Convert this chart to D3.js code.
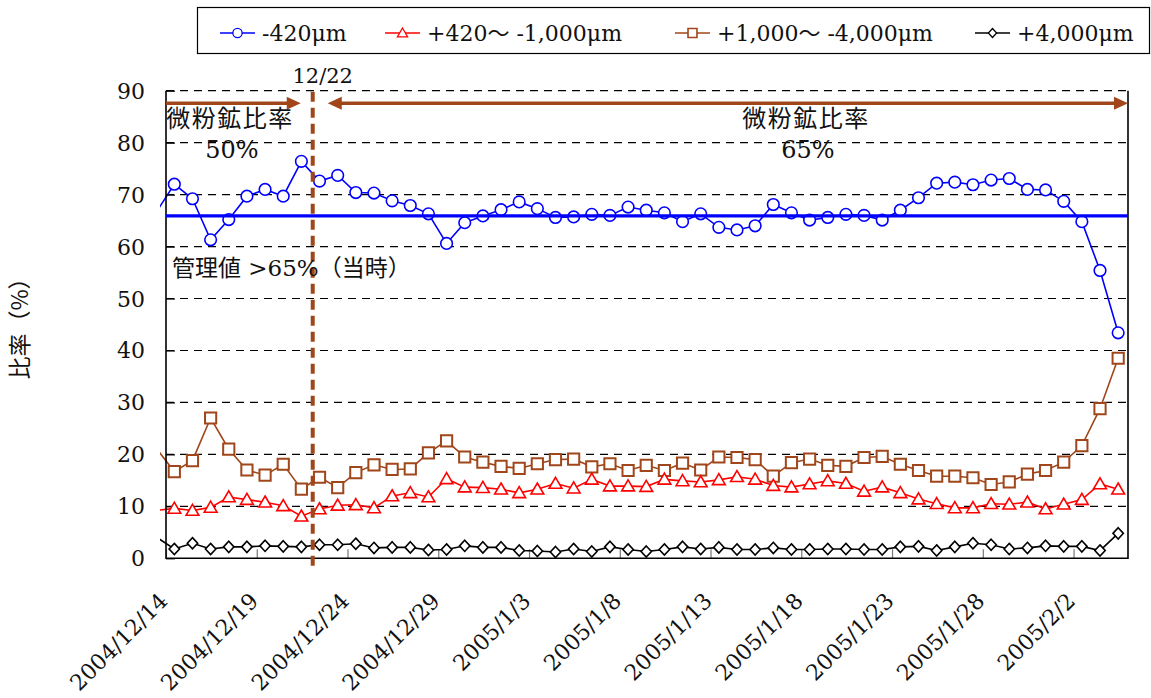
<!DOCTYPE html>
<html>
<head>
<meta charset="utf-8">
<script src="https://cdn.jsdelivr.net/npm/d3@7"></script>
<style>
  body { margin: 0; background: #fff; }
  svg text { font-family: "DejaVu Serif", "Noto Sans CJK JP", serif; fill: #111; }
  .jp { font-family: "Noto Sans CJK JP", sans-serif; }
</style>
</head>
<body>
<svg id="chart" width="1151" height="698"></svg>
<script>
// first value of each series is 2004/12/13 (outside the axis, clipped)
var firstDay = new Date(2004, 11, 13, 11);
var blue = [66.6, 72.0, 69.2, 61.3, 65.2, 69.7, 71.0, 69.7, 76.4, 72.6, 73.7, 70.4, 70.3, 68.8, 67.9, 66.3, 60.6, 64.6, 65.9, 67.1, 68.6, 67.3, 65.6, 65.7, 66.2, 66.0, 67.6, 67.0, 66.5, 64.8, 66.3, 63.7, 63.2, 64.0, 68.1, 66.5, 65.1, 65.6, 66.2, 66.0, 65.1, 67.0, 69.4, 72.2, 72.4, 71.9, 72.8, 73.1, 71.0, 70.9, 68.7, 64.8, 55.4, 43.4];
var red = [9.2, 9.6, 9.2, 9.8, 11.8, 11.3, 10.8, 10.1, 8.1, 9.5, 10.2, 10.3, 9.7, 12.0, 12.6, 11.8, 15.3, 13.7, 13.6, 13.3, 12.6, 13.3, 14.4, 13.5, 15.2, 13.9, 13.9, 13.8, 15.2, 14.9, 14.7, 15.1, 15.7, 15.2, 14.0, 13.7, 14.3, 14.9, 14.4, 12.9, 13.7, 12.6, 11.4, 10.5, 9.7, 9.7, 10.5, 10.4, 10.8, 9.5, 10.4, 11.3, 14.3, 13.3];
var brown = [21.2, 16.7, 18.8, 27.0, 21.0, 17.0, 16.0, 18.1, 13.3, 15.6, 13.6, 16.5, 18.0, 17.1, 17.2, 20.3, 22.6, 19.5, 18.5, 17.7, 17.3, 18.2, 19.0, 19.1, 17.6, 18.2, 16.9, 17.9, 16.9, 18.3, 17.0, 19.5, 19.4, 19.0, 15.8, 18.4, 19.1, 17.9, 17.7, 19.4, 19.6, 18.1, 16.9, 15.8, 15.8, 15.5, 14.2, 14.7, 16.2, 16.9, 18.5, 21.7, 28.8, 38.5];
var black = [4.1, 1.8, 2.9, 1.8, 2.2, 2.2, 2.4, 2.3, 2.2, 2.6, 2.6, 2.8, 2.0, 2.1, 2.1, 1.6, 1.7, 2.4, 2.1, 2.1, 1.5, 1.4, 1.2, 1.8, 1.3, 2.2, 1.7, 1.3, 1.7, 2.2, 1.8, 2.1, 1.7, 1.7, 2.0, 1.7, 1.7, 1.8, 1.8, 1.7, 1.7, 2.2, 2.3, 1.5, 2.2, 2.9, 2.6, 1.8, 2.0, 2.4, 2.3, 2.3, 1.5, 4.8];
var tickLabels = ["2004/12/14", "2004/12/19", "2004/12/24", "2004/12/29", "2005/1/3", "2005/1/8", "2005/1/13", "2005/1/18", "2005/1/23", "2005/1/28", "2005/2/2"];
var yTicks = [0, 10, 20, 30, 40, 50, 60, 70, 80, 90];
var limitValue = 65.9;
var changeDate = new Date(2004, 11, 22, 2);
var seriesNames = ["-420μm", "+420～ -1,000μm", "+1,000～ -4,000μm", "+4,000μm"];

var BROWN = "#a0461a";
var series = [
  {name: seriesNames[0], values: blue, color: "#0000ff", shape: "circle"},
  {name: seriesNames[1], values: red, color: "#ff0000", shape: "triangle"},
  {name: seriesNames[2], values: brown, color: BROWN, shape: "square"},
  {name: seriesNames[3], values: black, color: "#000000", shape: "diamond"}
];

var svg = d3.select("#chart");
var pL = 166, pR = 1128, pT = 90.7, pB = 558.3;
var parse = d3.timeParse("%Y/%m/%d");

var x = d3.scaleTime()
    .domain([new Date(2004, 11, 14), new Date(2005, 1, 5)])
    .range([pL, pR]);
var y = d3.scaleLinear().domain([0, 90]).range([pB, pT]);

var dates = blue.map(function(d, i){ return d3.timeDay.offset(firstDay, i); });

svg.append("rect").attr("width", 1151).attr("height", 698).attr("fill", "#fff");

// the lines run a few pixels past the left axis, as in the original
svg.append("defs").append("clipPath").attr("id", "plotclip")
  .append("rect").attr("x", pL - 6).attr("y", pT - 10)
  .attr("width", pR - pL + 6).attr("height", pB - pT + 20);

// gridlines
svg.append("g").selectAll("line")
  .data(yTicks.filter(function(v){ return v > 0; }))
  .enter().append("line")
  .attr("x1", pL).attr("x2", pR)
  .attr("y1", function(v){ return y(v); }).attr("y2", function(v){ return y(v); })
  .attr("stroke", "#000").attr("stroke-width", 1.2).attr("stroke-dasharray", "8,6");

// y axis (ticks inside)
var yAxis = svg.append("g").attr("transform", "translate(" + pL + ",0)")
  .call(d3.axisRight(y).tickValues(yTicks).tickSize(9).tickFormat(""));
yAxis.select(".domain").remove();
yAxis.selectAll("line").attr("stroke", "#000").attr("stroke-width", 1.2);
svg.append("g").selectAll("text").data(yTicks).enter().append("text")
  .attr("x", 145).attr("y", function(v){ return y(v) + 8; })
  .attr("text-anchor", "end").attr("font-size", 22)
  .text(function(v){ return v; });

// x axis (ticks inside)
var tickDates = tickLabels.map(parse);
var xAxis = svg.append("g").attr("transform", "translate(0," + pB + ")")
  .call(d3.axisTop(x).tickValues(tickDates).tickSize(9).tickFormat(""));
xAxis.select(".domain").remove();
xAxis.selectAll("line").attr("stroke", "#777").attr("stroke-width", 1.2);
svg.append("g").selectAll("text").data(tickDates).enter().append("text")
  .attr("transform", function(d){ return "translate(" + (x(d) + 3) + "," + (pB + 44) + ") rotate(-45)"; })
  .attr("text-anchor", "end").attr("font-size", 22)
  .text(function(d, i){ return tickLabels[i]; });

function marker(sel, shape, color){
  if (shape === "circle") {
    sel.append("circle").attr("r", 5.8);
  } else {
    var p = shape === "triangle" ? "M0,-6.2L6.4,4.8H-6.4Z"
          : shape === "square" ? "M-5.6,-5.6H5.6V5.6H-5.6Z"
          : "M0,-5.6L5.2,0L0,5.6L-5.2,0Z";
    sel.append("path").attr("d", p);
  }
  sel.selectAll("circle,path").attr("fill", "#fff").attr("stroke", color)
    .attr("stroke-width", shape === "square" ? 2 : 1.6);
}

var line = d3.line()
  .x(function(d){ return x(d.date); })
  .y(function(d){ return y(d.value); });

var plot = svg.append("g").attr("clip-path", "url(#plotclip)");
series.slice().reverse().forEach(function(s){
  var pts = s.values.map(function(v, i){ return {date: dates[i], value: v}; });
  plot.append("path").datum(pts)
    .attr("d", line).attr("fill", "none")
    .attr("stroke", s.color).attr("stroke-width", 1.6);
  plot.selectAll(null)
    .data(pts.filter(function(p){ return p.date >= x.domain()[0]; }))
    .enter().append("g")
    .attr("transform", function(p){ return "translate(" + x(p.date) + "," + y(p.value) + ")"; })
    .each(function(){ marker(d3.select(this), s.shape, s.color); });
});

// frame
svg.append("path")
  .attr("d", "M" + pL + "," + pT + "V" + pB + "H" + pR + "V" + pT)
  .attr("fill", "none").attr("stroke", "#000").attr("stroke-width", 1.6);

// control limit line
svg.append("line")
  .attr("x1", pL).attr("x2", pR)
  .attr("y1", y(limitValue)).attr("y2", y(limitValue))
  .attr("stroke", "#0000ff").attr("stroke-width", 3.2);

// change date line
svg.append("line")
  .attr("x1", x(changeDate)).attr("x2", x(changeDate))
  .attr("y1", pT + 1).attr("y2", pB + 9)
  .attr("stroke", BROWN).attr("stroke-width", 4).attr("stroke-dasharray", "10,6");
svg.append("text").attr("x", x(changeDate) + 10).attr("y", 83)
  .attr("text-anchor", "middle").attr("font-size", 21).text("12/22");

// arrows
var ay = 103.3;
function arrow(x1, x2, headLeft, headRight){
  var g = svg.append("g").attr("fill", BROWN);
  g.append("line").attr("x1", x1 + (headLeft ? 10 : 0)).attr("x2", x2 - (headRight ? 10 : 0))
    .attr("y1", ay).attr("y2", ay).attr("stroke", BROWN).attr("stroke-width", 3.6);
  if (headLeft) g.append("path").attr("d", "M" + x1 + "," + ay + "l14,-6.5v13z");
  if (headRight) g.append("path").attr("d", "M" + x2 + "," + ay + "l-14,-6.5v13z");
}
arrow(pL, x(changeDate) - 12, false, true);
arrow(x(changeDate) + 15, pR, true, true);

svg.append("text").attr("class", "jp").attr("x", 230).attr("y", 127)
  .attr("text-anchor", "middle").attr("font-size", 24).attr("letter-spacing", 1.5).text("微粉鉱比率");
svg.append("text").attr("x", 232).attr("y", 158)
  .attr("text-anchor", "middle").attr("font-size", 24).text("50%");
svg.append("text").attr("class", "jp").attr("x", 806).attr("y", 127)
  .attr("text-anchor", "middle").attr("font-size", 24).attr("letter-spacing", 1.5).text("微粉鉱比率");
svg.append("text").attr("x", 808).attr("y", 158)
  .attr("text-anchor", "middle").attr("font-size", 24).text("65%");
svg.append("text").attr("x", 172).attr("y", 276)
  .attr("font-size", 23).text("管理値 >65%（当時）");

// y title
svg.append("text").attr("class", "jp")
  .attr("transform", "translate(28,323) rotate(-90)")
  .attr("text-anchor", "middle").attr("font-size", 23).text("比率（%）");

// legend
svg.append("rect").attr("x", 197.5).attr("y", 7.5).attr("width", 952).attr("height", 46)
  .attr("fill", "#fff").attr("stroke", "#000").attr("stroke-width", 1.2);
var legendX = [220, 385, 675, 975];
series.forEach(function(s, i){
  var g = svg.append("g").attr("transform", "translate(" + legendX[i] + ",33)");
  g.append("line").attr("x1", 0).attr("x2", 35).attr("stroke", s.color).attr("stroke-width", 1.6);
  var m = g.append("g").attr("transform", "translate(17.5,0) scale(0.8)");
  marker(m, s.shape, s.color);
  g.append("text").attr("x", 42).attr("y", 8).attr("font-size", 22).text(s.name);
});
</script>
</body>
</html>
